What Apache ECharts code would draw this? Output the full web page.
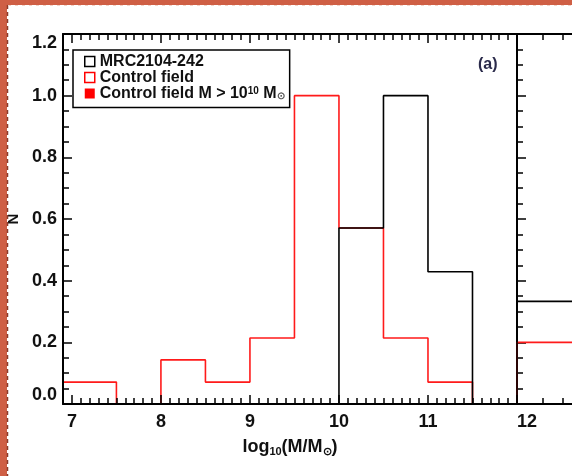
<!DOCTYPE html>
<html><head><meta charset="utf-8">
<script src="https://cdn.jsdelivr.net/npm/echarts@6/dist/echarts.min.js"></script>
<style>html,body{margin:0;padding:0;background:#fff}#c{width:572px;height:476px}</style>
</head><body><div id="c"></div>
<script>
// ---- data ----
const controlEdges = [6.5, 7.0, 7.5, 8.0, 8.5, 9.0, 9.5, 10.0, 10.5, 11.0, 11.5, 12.0];
const controlValues = [0.071, 0.071, 0, 0.143, 0.071, 0.214, 1.0, 0.571, 0.214, 0.071, 0];
const mrcEdges = [10.0, 10.5, 11.0, 11.5];
const mrcValues = [0.571, 1.0, 0.429];
const panelBEdges = [0, 12];
const panelBMrcValues = [0.333];
const panelBControlValues = [0.2];
const xTickLabels = [7, 8, 9, 10, 11, 12];
const yTickLabels = [0.0, 0.2, 0.4, 0.6, 0.8, 1.0, 1.2];
const panelBTicks = [1.3, 2.3, 3.3];
const seriesNames = ['MRC2104-242', 'Control field', 'Control field M > 10^10 Msun'];

function hist(edges, values) {
  const n = values.length;
  const pts = [[edges[0], 0]];
  for (let i = 0; i < n; i++) pts.push([edges[i], values[i]]);
  pts.push([edges[n], values[n - 1]]);
  pts.push([edges[n], 0]);
  return pts;
}

const FF = '"Liberation Sans", Arial, sans-serif';
const TXT = '#111';
const chart = echarts.init(document.getElementById('c'), null, {renderer: 'canvas'});

const lineBlack = {show: true, onZero: false, lineStyle: {color: '#000', width: 2}};
const xMajor = (gi, pos, labels) => ({
  gridIndex: gi, type: 'value', position: pos, min: 6.9, max: 12, interval: 1, z: 5,
  axisLine: lineBlack, splitLine: {show: false},
  axisTick: {show: true, inside: true, length: 9, lineStyle: {color: '#000', width: 1.5}, customValues: xTickLabels},
  axisLabel: labels ? {show: true, customValues: xTickLabels, color: TXT, fontFamily: FF, fontWeight: 'bold', fontSize: 18, margin: 9, alignMaxLabel: 'left'} : {show: false}
});
const xMinor = (gi, pos) => ({
  gridIndex: gi, type: 'value', position: pos, min: 6.9, max: 12, interval: 0.1, z: 5,
  axisLine: {show: false, onZero: false}, splitLine: {show: false},
  axisTick: {show: true, inside: true, length: 6, lineStyle: {color: '#000', width: 1.5}},
  axisLabel: {show: false}
});
const xPanelB = (pos) => ({
  gridIndex: 1, type: 'value', position: pos, min: 0, max: 20, z: 5,
  axisLine: lineBlack, splitLine: {show: false},
  axisTick: {show: true, inside: true, length: 6, lineStyle: {color: '#000', width: 1.5}, customValues: panelBTicks},
  axisLabel: {show: false}
});

const option = {
  animation: false,
  backgroundColor: '#fff',
  grid: [
    {left: 63, top: 34, width: 454, height: 370, containLabel: false, outerBoundsMode: 'none'},
    {left: 517, top: 34, width: 400, height: 370, containLabel: false, outerBoundsMode: 'none'}
  ],
  xAxis: [
    Object.assign(xMajor(0, 'bottom', true), {
      name: 'log{sub|10}(M/M{sub|⊙})', nameLocation: 'middle', nameGap: 25,
      nameTextStyle: {color: TXT, fontFamily: FF, fontWeight: 'bold', fontSize: 18, lineHeight: 22,
        rich: {sub: {fontFamily: FF, fontWeight: 'bold', fontSize: 11, lineHeight: 11, verticalAlign: 'bottom', color: TXT}}}
    }),
    xMinor(0, 'bottom'),
    xMajor(0, 'top', false),
    xMinor(0, 'top'),
    xPanelB('bottom'),
    xPanelB('top')
  ],
  yAxis: [
    {gridIndex: 0, type: 'value', position: 'left', min: 0, max: 1.2, interval: 0.2, z: 5,
      axisLine: lineBlack, splitLine: {show: false},
      axisTick: {show: true, inside: true, length: 9, lineStyle: {color: '#000', width: 1.5}},
      minorTick: {show: true, splitNumber: 4, length: 6, lineStyle: {color: '#000', width: 1.5}},
      axisLabel: {color: TXT, fontFamily: FF, fontWeight: 'bold', fontSize: 18, margin: 6,
        verticalAlignMinLabel: 'bottom', verticalAlignMaxLabel: 'top',
        formatter: v => Number(v).toFixed(1)},
      name: 'N', nameLocation: 'middle', nameGap: 40, nameRotate: 90,
      nameTextStyle: {color: TXT, fontFamily: FF, fontWeight: 'bold', fontSize: 15}
    },
    {gridIndex: 1, type: 'value', position: 'left', min: 0, max: 1.2, interval: 0.2, z: 1,
      axisLine: lineBlack, splitLine: {show: false},
      axisTick: {show: true, inside: true, length: 9, lineStyle: {color: '#000', width: 1.5}},
      minorTick: {show: true, splitNumber: 4, length: 6, lineStyle: {color: '#000', width: 1.5}},
      axisLabel: {show: false}
    }
  ],
  legend: {
    left: 73, top: 50, orient: 'vertical', padding: [3.5, 5, 6, 11], itemGap: 0,
    itemWidth: 10, itemHeight: 10, borderColor: '#000', borderWidth: 1.5, backgroundColor: '#fff',
    selectedMode: false,
    textStyle: {color: TXT, fontFamily: FF, fontWeight: 'bold', fontSize: 16, lineHeight: 15.4,
      rich: {
        sup: {color: TXT, fontFamily: FF, fontWeight: 'bold', fontSize: 10, verticalAlign: 'top', lineHeight: 10},
        sub: {color: '#555', fontFamily: FF, fontWeight: 'bold', fontSize: 10, verticalAlign: 'bottom', lineHeight: 10}
      }},
    formatter: name => name === seriesNames[2] ? 'Control field M > 10{sup|10} M{sub|⊙}' : name,
    data: [
      {name: seriesNames[0], icon: 'rect', itemStyle: {color: '#fff', borderColor: '#000', borderWidth: 1.5}},
      {name: seriesNames[1], icon: 'rect', itemStyle: {color: '#fff', borderColor: '#ff0000', borderWidth: 1.5}},
      {name: seriesNames[2], icon: 'rect', itemStyle: {color: '#ff0000', borderColor: '#ff0000', borderWidth: 0}}
    ]
  },
  series: [
    {name: seriesNames[1], type: 'line', step: 'end', xAxisIndex: 0, yAxisIndex: 0, showSymbol: false, symbol: 'none',
      lineStyle: {color: '#ff1a1a', width: 1.6}, itemStyle: {color: '#ff0000'}, data: hist(controlEdges, controlValues)},
    {name: seriesNames[1], type: 'line', step: 'end', xAxisIndex: 4, yAxisIndex: 1, showSymbol: false, symbol: 'none',
      lineStyle: {color: '#ff1a1a', width: 1.6}, itemStyle: {color: '#ff0000'}, data: hist(panelBEdges, panelBControlValues)},
    {name: seriesNames[0], type: 'line', step: 'end', xAxisIndex: 0, yAxisIndex: 0, showSymbol: false, symbol: 'none',
      lineStyle: {color: '#000', width: 1.6}, itemStyle: {color: '#000'}, data: hist(mrcEdges, mrcValues)},
    {name: seriesNames[0], type: 'line', step: 'end', xAxisIndex: 4, yAxisIndex: 1, showSymbol: false, symbol: 'none',
      lineStyle: {color: '#000', width: 1.6}, itemStyle: {color: '#000'}, data: hist(panelBEdges, panelBMrcValues)},
    {name: seriesNames[2], type: 'line', step: 'end', xAxisIndex: 0, yAxisIndex: 0, showSymbol: false, symbol: 'none',
      lineStyle: {color: '#ff0000', width: 1.6}, itemStyle: {color: '#ff0000'}, data: []}
  ],
  graphic: [
    {type: 'text', left: 478, top: 57, z: 10, style: {text: '(a)', fill: '#2a2a4a', font: 'bold 16px ' + FF}},
    {type: 'rect', shape: {x: 0, y: 0, width: 7, height: 476}, style: {fill: '#cf5f45'}, z: 20},
    {type: 'rect', shape: {x: 0, y: 0, width: 572, height: 5}, style: {fill: '#cf5f45'}, z: 20},
    {type: 'line', shape: {x1: 7.5, y1: 5, x2: 7.5, y2: 476}, style: {stroke: '#8b3a2a', lineWidth: 1.5, lineDash: [4, 3]}, z: 21},
    {type: 'line', shape: {x1: 8, y1: 5.5, x2: 572, y2: 5.5}, style: {stroke: '#f3d3c8', lineWidth: 1.2, lineDash: [3, 4]}, z: 21}
  ]
};
chart.setOption(option);
</script>
</body></html>
